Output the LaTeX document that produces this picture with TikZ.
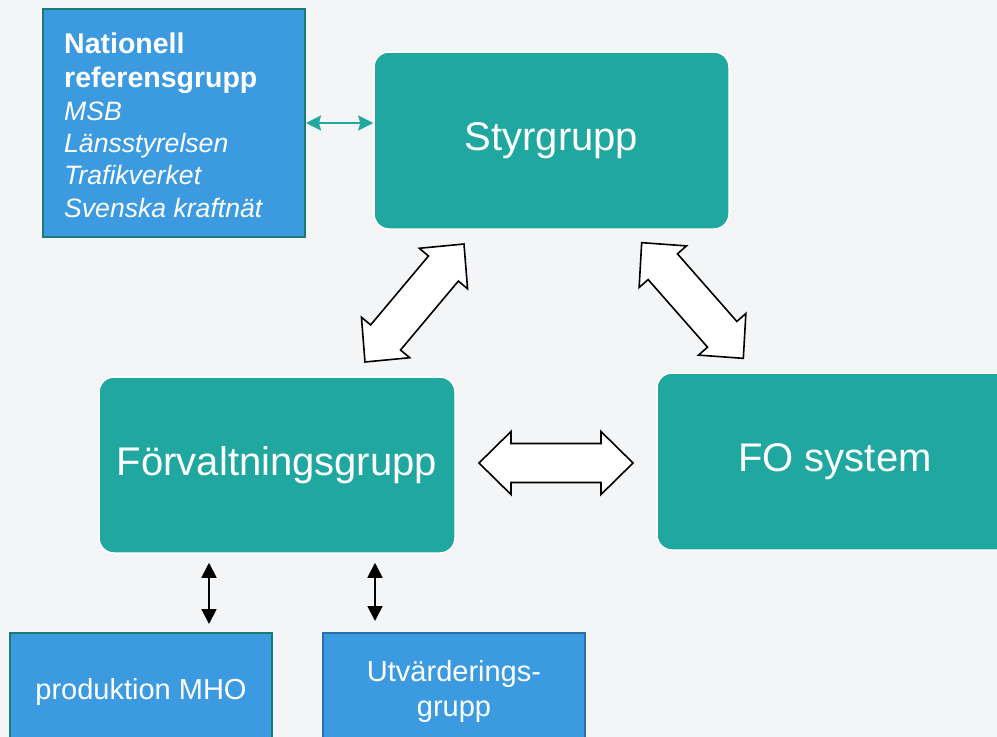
\documentclass[tikz,border=0pt]{standalone}
\usepackage{fontspec}
\setmainfont{Liberation Sans}
\usetikzlibrary{arrows.meta,calc}
\definecolor{bgc}{HTML}{F4F5F7}
\definecolor{tealc}{HTML}{20A8A0}
\definecolor{bluec}{HTML}{3C9BE0}
\definecolor{tealdark}{HTML}{1C7C74}
\definecolor{bluedark}{HTML}{2C6EAA}
\begin{document}
\begin{tikzpicture}[x=1pt,y=-1pt,
  tealbox/.style={fill=tealc, draw=white, line width=1.5pt, rounded corners=15pt,
    text=white, font=\fontsize{40}{48}\selectfont, inner sep=0pt},
  bluebox/.style={fill=bluec, line width=2pt, text=white, inner sep=0pt,
    font=\fontsize{29}{35}\selectfont, align=center},
  natline/.style={anchor=base west, inner sep=0pt, text=white},
  natbold/.style={natline, font=\bfseries\fontsize{28.5}{33}\selectfont},
  natital/.style={natline, font=\itshape\fontsize{26.6}{33}\selectfont},
  tealarrow/.style={draw=tealc, line width=2pt, {Stealth[length=15pt,width=15pt,inset=2pt]}-{Stealth[length=15pt,width=15pt,inset=2pt]}},
  blkarrow/.style={draw=black, line width=1.8pt, {Triangle[length=15pt,width=15pt]}-{Triangle[length=15pt,width=15pt]}},
  blockarrow/.style={draw=black, fill=white, line width=1.6pt, line join=miter},
  dblarrow/.pic={\path[blockarrow] (-77,0) -- (-45,31.5) -- (-45,19.5) -- (45,19.5) -- (45,31.5)
      -- (77,0) -- (45,-31.5) -- (45,-19.5) -- (-45,-19.5) -- (-45,-31.5) -- cycle;}
]
\useasboundingbox (0,0) rectangle (997,737);
\clip (0,0) rectangle (997,737);
\fill[bgc] (0,0) rectangle (997,737);

% Nationell referensgrupp
\node[bluebox, draw=tealdark, minimum width=262, minimum height=228] (nat) at (174,123) {};
\node[natbold] (n1) at (64,53) {Nationell};
\node[natbold] (n2) at (64,87) {referensgrupp};
\node[natital] (n3) at (64,120) {MSB};
\node[natital] (n4) at (64,152) {Länsstyrelsen};
\node[natital] (n5) at (64,184) {Trafikverket};
\node[natital] (n6) at (64,217) {Svenska kraftnät};

% main teal boxes
\node[tealbox, minimum width=355, minimum height=177] (styr) at (551.5,140.5) {Styrgrupp};
\node[tealbox, minimum width=356, minimum height=176] (forv) at (277,465) {Förvaltningsgrupp};
\node[tealbox, minimum width=356, minimum height=177] (fo) at (835,461.5) {FO system};

% bottom boxes
\node[bluebox, draw=tealdark, minimum width=262, minimum height=117] (prod) at (141,691.5) {produktion MHO};
\node[bluebox, draw=bluedark, minimum width=262, minimum height=117] (utv) at (454,691.5) {Utvärderings-\\grupp};

% connectors
\draw[tealarrow] (nat.east) -- (nat.east -| styr.west);

\coordinate (c1) at (209,0);
\coordinate (c2) at (375,0);
\draw[blkarrow, shorten <=9pt, shorten >=8pt] (forv.south -| c1) -- (prod.north -| c1);
\draw[blkarrow, shorten <=9pt, shorten >=11pt] (forv.south -| c2) -- (utv.north -| c2);

% block double arrows
\coordinate (ba1) at (414.5,303);
\coordinate (ba2) at (692.5,300.5);
\coordinate (ba3) at (556,463);
\pic[rotate=50] at (ba1) {dblarrow};
\pic[rotate=-48.7] at (ba2) {dblarrow};
\pic at (ba3) {dblarrow};
\end{tikzpicture}
\end{document}
